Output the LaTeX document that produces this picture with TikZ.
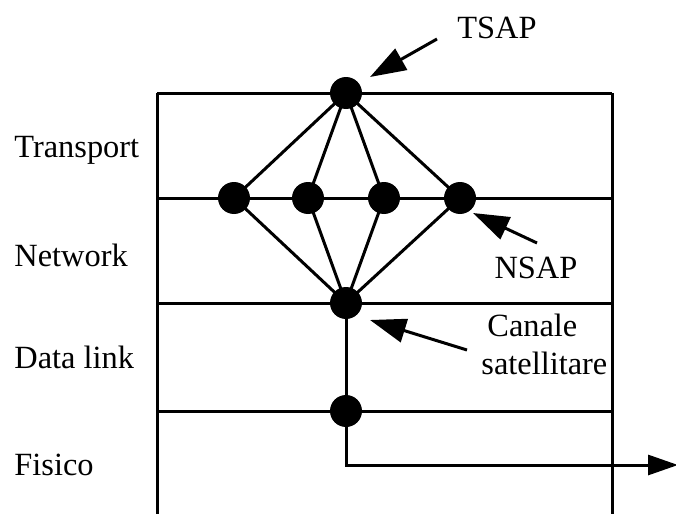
\documentclass[tikz,border=0pt]{standalone}
\usepackage{fontspec}
\setmainfont{Liberation Serif}
\usetikzlibrary{arrows.meta}
\begin{document}
\begin{tikzpicture}[x=0.5pt,y=-0.5pt,
  ln/.style={line width=1.5pt},
  dot/.style={circle,fill=black,inner sep=0pt,minimum size=16pt},
  lbl/.style={font=\fontsize{16.2}{19}\selectfont,inner sep=0pt},
  ptr/.style={line width=1.5pt,-{Triangle[length=18pt,width=12pt]}}]
\useasboundingbox (0,0) rectangle (676,514);
% frame coordinates
\coordinate (l0) at (157,93);  \coordinate (r0) at (612,93);
\coordinate (l1) at (157,198); \coordinate (r1) at (612,198);
\coordinate (l2) at (157,303); \coordinate (r2) at (612,303);
\coordinate (l3) at (157,411); \coordinate (r3) at (612,411);
\coordinate (lb) at (157,514); \coordinate (rb) at (612,514);
\draw[ln] (l0) -- (lb);
\draw[ln] (r0) -- (rb);
\draw[ln] (l0) -- (r0);
\draw[ln] (l1) -- (r1);
\draw[ln] (l2) -- (r2);
\draw[ln] (l3) -- (r3);
% dots
\node[dot] (t) at (346,93) {};
\node[dot] (n1) at (234,198) {};
\node[dot] (n2) at (308,198) {};
\node[dot] (n3) at (384,198) {};
\node[dot] (n4) at (460,198) {};
\node[dot] (d) at (346,303) {};
\node[dot] (p) at (346,411) {};
\foreach \n in {n1,n2,n3,n4}{
  \draw[ln] (t.center) -- (\n.center);
  \draw[ln] (\n.center) -- (d.center);
}
\coordinate (c) at (346,465);
\coordinate (e) at (678,465);
\draw[ln] (d.center) -- (p.center);
\draw[line width=1.5pt,-{Triangle[length=15pt,width=10pt]}] (p.center) -- (c) -- (e);
% layer labels
\node[lbl,anchor=west] (tr) at (14,150) {Transport};
\node[lbl,anchor=west] (nw) at (14,255) {Network};
\node[lbl,anchor=west] (dl) at (14,357) {Data link};
\node[lbl,anchor=west] (fs) at (14,465) {Fisico};
% pointers
\node[lbl] (tsap) at (497,28) {TSAP};
\coordinate (ts) at (437,39);
\coordinate (tt) at (370,77);
\draw[ptr] (ts) -- (tt);
\node[lbl] (nsap) at (536,268) {NSAP};
\coordinate (ns) at (537,243);
\coordinate (nt) at (473,213);
\draw[ptr] (ns) -- (nt);
\node[lbl,anchor=north west,align=left] (can) at (481,314) {\hspace*{3pt}Canale\\satellitare};
\coordinate (cs) at (467,350);
\coordinate (ct) at (370,320);
\draw[ptr] (cs) -- (ct);
\end{tikzpicture}
\end{document}
